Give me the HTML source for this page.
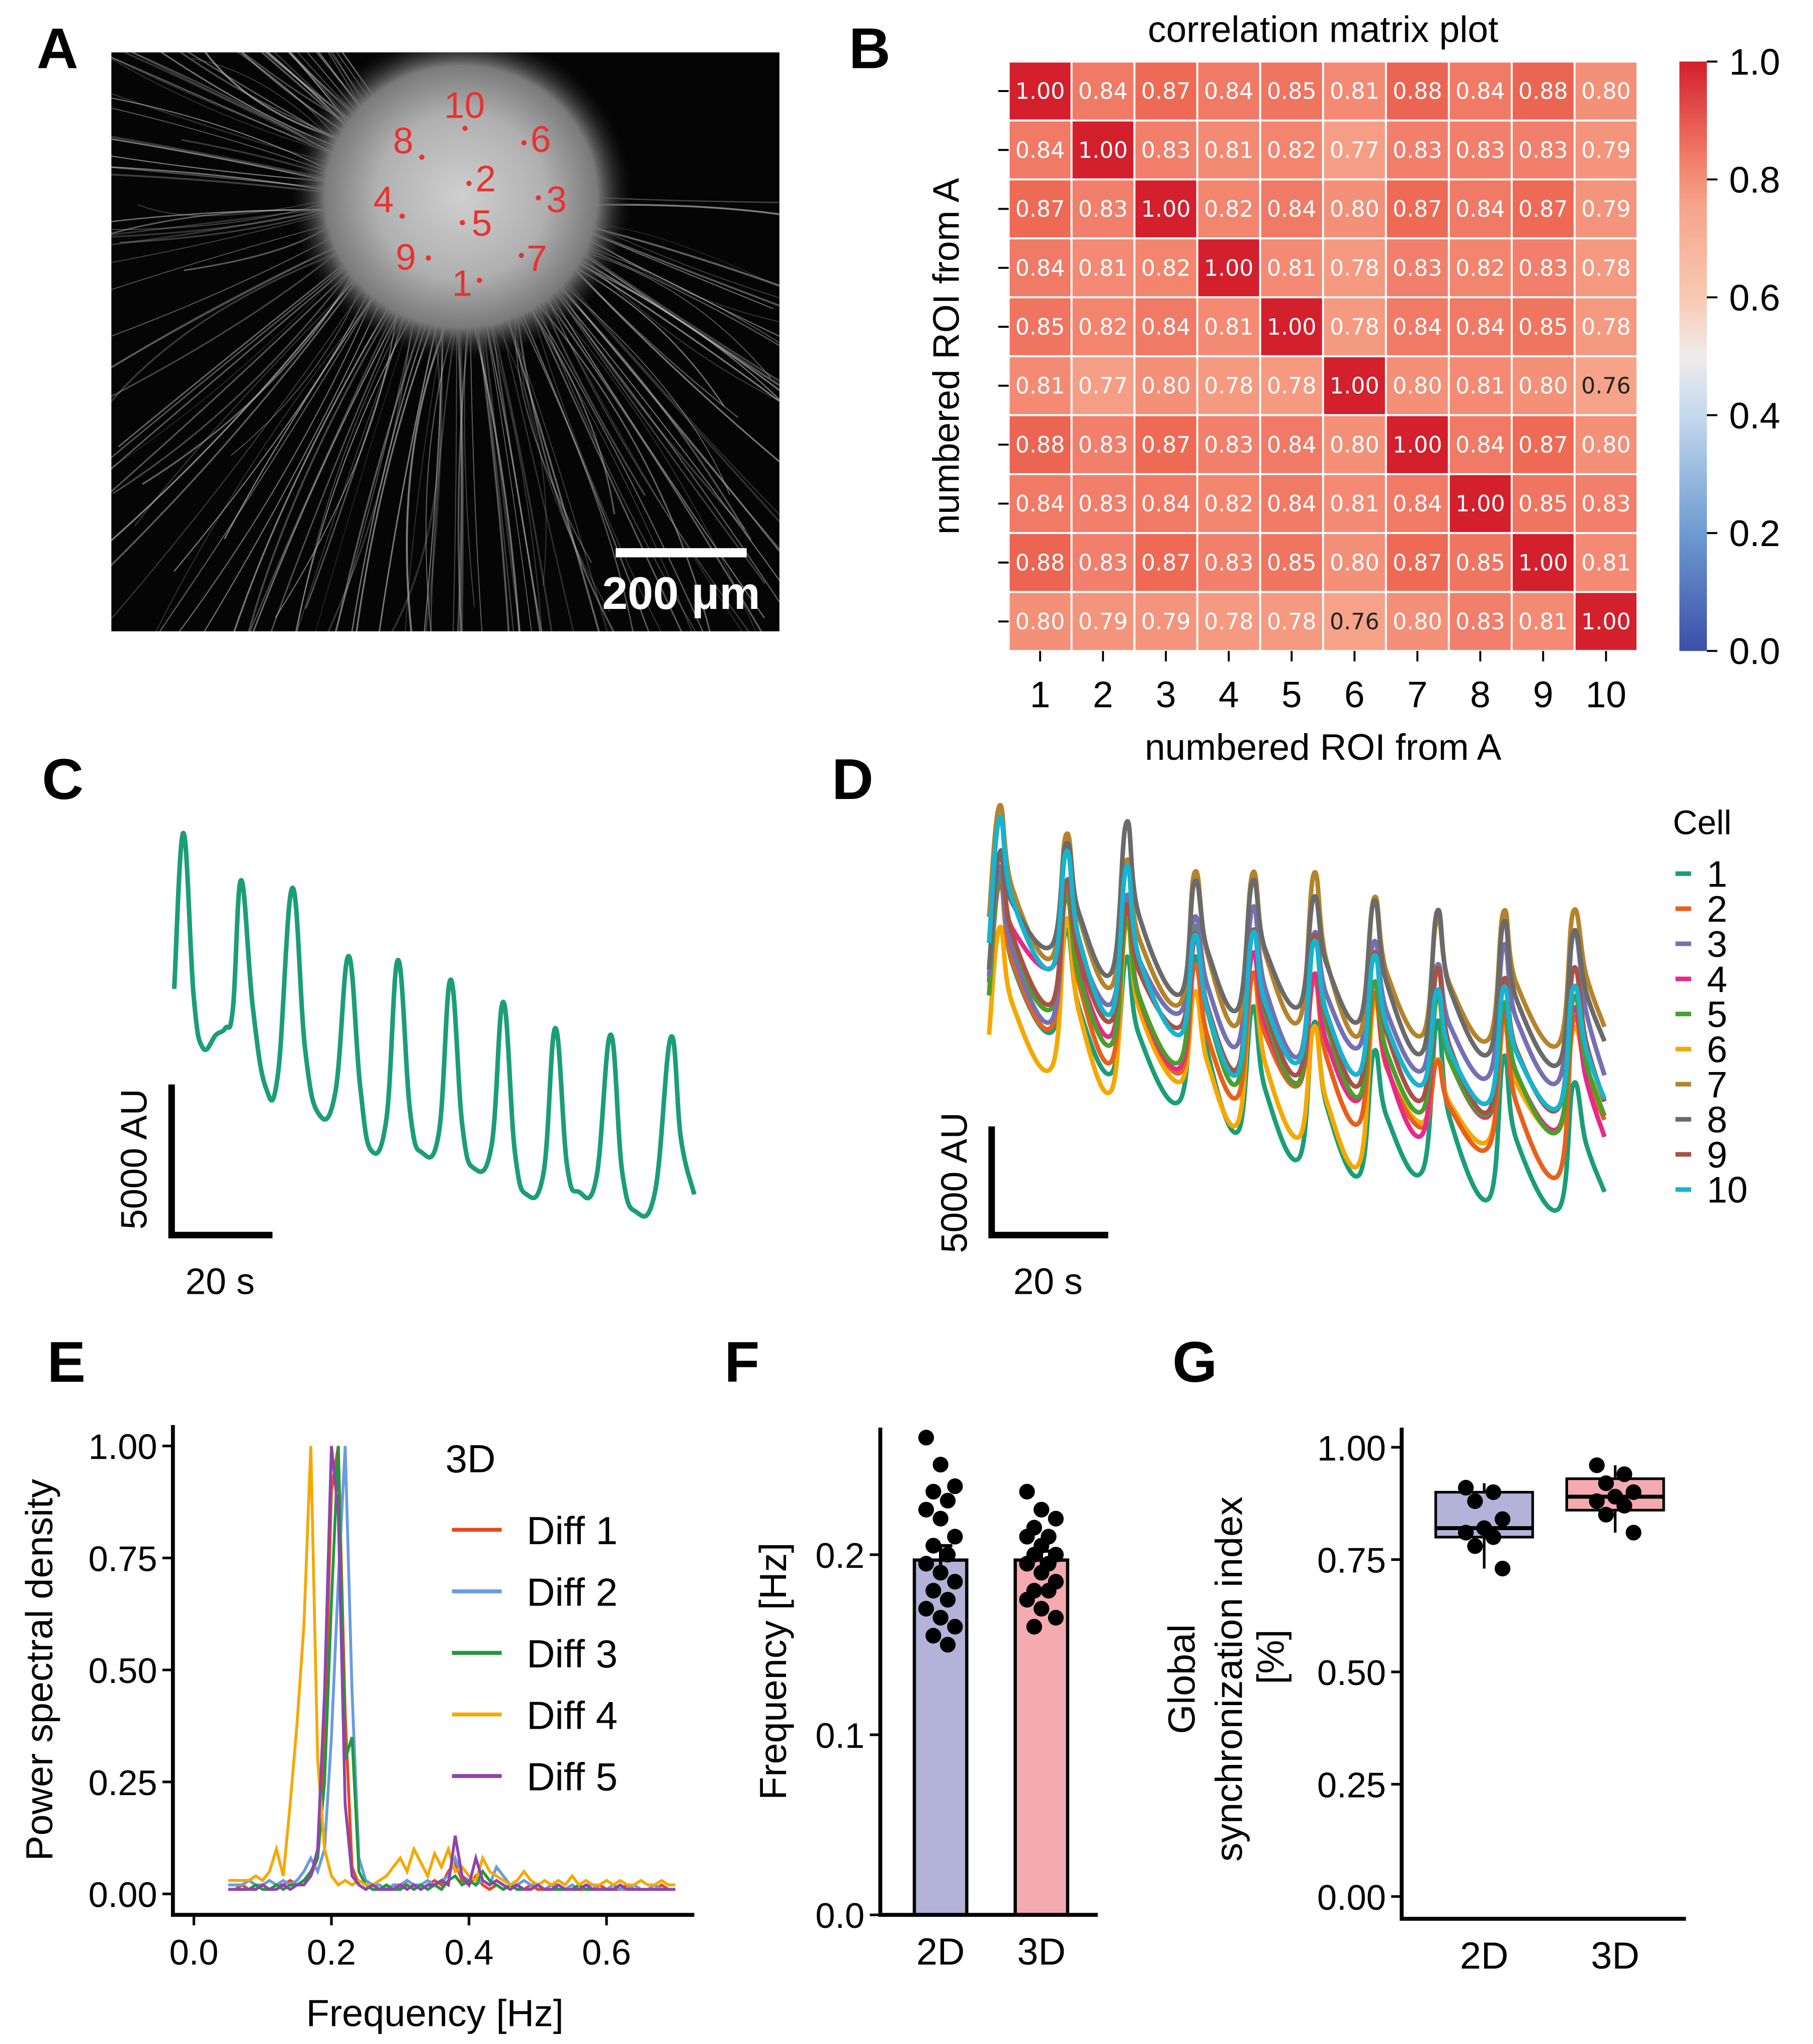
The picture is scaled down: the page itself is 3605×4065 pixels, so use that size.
<!DOCTYPE html>
<html><head><meta charset="utf-8"><style>
html,body{margin:0;padding:0;background:#fff;}
svg{display:block;font-family:"Liberation Sans",sans-serif;}
</style></head><body>
<svg id="fig" width="3605" height="4065" viewBox="0 0 1384 1560.6" xmlns="http://www.w3.org/2000/svg">
<defs>
<radialGradient id="blob" cx="0.5" cy="0.5" r="0.5">
<stop offset="0" stop-color="#cfcfcf"/><stop offset="0.5" stop-color="#b0b0b0"/><stop offset="0.8" stop-color="#7a7a7a"/><stop offset="1" stop-color="#222" stop-opacity="0"/>
</radialGradient>
<linearGradient id="cbar" x1="0" y1="1" x2="0" y2="0">
<stop offset="0" stop-color="#3b4fa8"/><stop offset="0.2" stop-color="#6d9bd1"/><stop offset="0.4" stop-color="#c4d9ee"/><stop offset="0.5" stop-color="#efeceb"/><stop offset="0.6" stop-color="#f8c9b2"/><stop offset="0.76" stop-color="#f6a389"/><stop offset="0.84" stop-color="#f07a66"/><stop offset="1" stop-color="#d41f2c"/>
</linearGradient>
<clipPath id="clipA"><rect x="85" y="40" width="510" height="442"/></clipPath>
</defs>
<g id="panelA">
<rect x="85" y="40" width="510" height="442" fill="#050505"/>
<g id="fibers" clip-path="url(#clipA)"></g>
<ellipse cx="352" cy="150" rx="130" ry="125" fill="url(#blob)" clip-path="url(#clipA)"/>
<g id="roiLabels" fill="#e8322f" font-size="28"></g>
<line x1="470" y1="422" x2="570" y2="422" stroke="#fff" stroke-width="7"/>
<text x="520" y="465" text-anchor="middle" fill="#fff" font-size="35" font-weight="bold">200 μm</text>
</g>
<g id="panelB">
<text x="1010" y="32" text-anchor="middle" font-size="28">correlation matrix plot</text>
<g id="heat"></g>
<text transform="translate(732,272) rotate(-90)" text-anchor="middle" font-size="28">numbered ROI from A</text>
<text x="1010" y="580" text-anchor="middle" font-size="28">numbered ROI from A</text>
<rect x="1282" y="47" width="21" height="450" fill="url(#cbar)"/>
<g id="cbticks"></g>
</g>
<g id="panelC"></g>
<g id="panelD"></g>
<g id="panelE"></g>
<g id="panelF"></g>
<g id="panelG"></g>
<g font-size="44" font-weight="bold">
<text x="28" y="52">A</text>
<text x="648" y="52">B</text>
<text x="32" y="610">C</text>
<text x="635" y="610">D</text>
<text x="36" y="1055">E</text>
<text x="553" y="1055">F</text>
<text x="895" y="1055">G</text>
</g>
</svg>
<script>
const NS="http://www.w3.org/2000/svg";
function mk(tag,attrs,parent,txt){const e=document.createElementNS(NS,tag);for(const k in attrs)e.setAttribute(k,attrs[k]);if(txt!==undefined)e.textContent=txt;parent.appendChild(e);return e;}
function smooth(pts){let d='M'+pts[0][0]+','+pts[0][1];for(let i=0;i<pts.length-1;i++){const p0=pts[Math.max(0,i-1)],p1=pts[i],p2=pts[i+1],p3=pts[Math.min(pts.length-1,i+2)];const t=0.2;const c1x=p1[0]+(p2[0]-p0[0])*t,c1y=p1[1]+(p2[1]-p0[1])*t,c2x=p2[0]-(p3[0]-p1[0])*t,c2y=p2[1]-(p3[1]-p1[1])*t;d+=` C${c1x.toFixed(1)},${c1y.toFixed(1)} ${c2x.toFixed(1)},${c2y.toFixed(1)} ${p2[0].toFixed(1)},${p2[1].toFixed(1)}`;}return d;}

// ---------- Data ----------
const roiNames=["1","2","3","4","5","6","7","8","9","10"];
const corrMatrix=[
[1.00,0.84,0.87,0.84,0.85,0.81,0.88,0.84,0.88,0.80],
[0.84,1.00,0.83,0.81,0.82,0.77,0.83,0.83,0.83,0.79],
[0.87,0.83,1.00,0.82,0.84,0.80,0.87,0.84,0.87,0.79],
[0.84,0.81,0.82,1.00,0.81,0.78,0.83,0.82,0.83,0.78],
[0.85,0.82,0.84,0.81,1.00,0.78,0.84,0.84,0.85,0.78],
[0.81,0.77,0.80,0.78,0.78,1.00,0.80,0.81,0.80,0.76],
[0.88,0.83,0.87,0.83,0.84,0.80,1.00,0.84,0.87,0.80],
[0.84,0.83,0.84,0.82,0.84,0.81,0.84,1.00,0.85,0.83],
[0.88,0.83,0.87,0.83,0.85,0.80,0.87,0.85,1.00,0.81],
[0.80,0.79,0.79,0.78,0.78,0.76,0.80,0.83,0.81,1.00]];
const cbTicks=[0.0,0.2,0.4,0.6,0.8,1.0];

const cTime=[0,1.8,3.8,5.6,8.2,10,11.5,13.1,15.4,17.9,20.3,23.1,25.6,28.2,31.5,34.1,36.4,38.5,41.5,43.8,46.2,48.5,51.8,54.1,56.4,58.7,62.1,64.4,66.7,69,72.3,74.6,76.9,79.2,82.6,85.4,87.7,90.3,94.1,97.2,99.2,101.8];
const cSignal=[188,307,183,143,153,158,173,271,173,113,123,265,143,93,108,213,113,65,88,210,93,63,78,195,83,51,68,178,63,31,48,158,53,33,43,153,48,18,33,151,73,31];

const dPeakTimes=[1.8,13.1,23.3,34.9,44.7,55.1,65.3,76,87.3,99.1];
const dEndTime=104.4;
const cellNames=["1","2","3","4","5","6","7","8","9","10"];
const cellStart=[183,183,198,193,183,153,243,203,203,223];
const cellPeaks=[
[270,233,212,212,174,162,140,163,136,115],
[270,263,248,206,199,195,184,133,166,164],
[281,270,259,243,250,230,224,206,221,230],
[270,259,248,226,215,199,193,184,173,173],
[274,259,241,235,232,226,193,181,177,181],
[235,241,239,186,199,159,177,134,159,157],
[328,306,286,277,276,276,257,241,247,247],
[292,299,315,270,270,258,255,247,239,231],
[292,270,252,230,232,228,215,203,195,203],
[319,293,281,229,230,224,213,187,189,189]];
const cellTroughs=[
[155,124,103,79,59,46,49,28,20,33],
[159,133,124,106,115,86,82,68,46,88],
[164,177,170,146,137,144,126,122,118,122],
[204,153,128,124,117,104,77,91,82,75],
[173,146,133,117,117,106,95,93,80,91],
[128,111,117,86,75,55,86,73,80,102],
[212,190,177,162,164,153,153,150,146,159],
[221,201,184,173,175,164,140,139,131,148],
[177,164,159,128,124,115,104,95,97,102],
[204,170,153,124,133,124,115,102,98,104]];
const cellColors=["#1b9e77","#e8601c","#7570b3","#e7298a","#4aa02c","#f5a800","#b5832a","#6a6a6a","#a65345","#17b3cf"];
const drawOrder=[0,5,1,3,4,2,8,6,7,9];

const eXTicks=[0.0,0.2,0.4,0.6];
const eYTicks=[0.00,0.25,0.50,0.75,1.00];
const seriesNames=["Diff 1","Diff 2","Diff 3","Diff 4","Diff 5"];
const seriesColors=["#e8481c","#6a9be0","#1e9a3c","#f5a800","#8e44ad"];
const freqs=[];for(let i=0;i<66;i++)freqs.push(+(0.05+0.01*i).toFixed(2));
const psd1=[0.01,0.01,0.02,0.01,0.01,0.02,0.01,0.02,0.02,0.03,0.02,0.03,0.04,0.08,0.35,0.9,1.0,0.4,0.06,0.02,0.01,0.02,0.01,0.01,0.02,0.01,0.03,0.02,0.01,0.02,0.03,0.02,0.05,0.07,0.03,0.02,0.04,0.02,0.01,0.02,0.01,0.02,0.01,0.01,0.02,0.01,0.01,0.02,0.01,0.01,0.02,0.01,0.01,0.01,0.02,0.01,0.01,0.01,0.02,0.01,0.01,0.01,0.01,0.02,0.01,0.01];
const psd2=[0.02,0.02,0.02,0.03,0.02,0.02,0.03,0.02,0.03,0.02,0.03,0.05,0.08,0.05,0.1,0.35,0.7,1.0,0.45,0.08,0.03,0.02,0.02,0.01,0.02,0.02,0.03,0.02,0.02,0.03,0.02,0.03,0.04,0.08,0.04,0.03,0.02,0.03,0.02,0.06,0.04,0.02,0.02,0.03,0.02,0.02,0.01,0.02,0.02,0.01,0.02,0.01,0.02,0.02,0.01,0.01,0.02,0.01,0.01,0.02,0.01,0.01,0.02,0.01,0.01,0.01];
const psd3=[0.01,0.01,0.01,0.01,0.02,0.01,0.01,0.02,0.01,0.02,0.02,0.03,0.05,0.08,0.25,0.65,1.0,0.3,0.35,0.05,0.02,0.01,0.01,0.02,0.01,0.01,0.02,0.01,0.02,0.01,0.02,0.01,0.03,0.04,0.02,0.03,0.02,0.05,0.03,0.02,0.01,0.02,0.01,0.01,0.01,0.02,0.01,0.01,0.01,0.01,0.01,0.02,0.01,0.01,0.01,0.01,0.01,0.02,0.01,0.01,0.01,0.01,0.01,0.01,0.01,0.01];
const psd4=[0.03,0.03,0.03,0.03,0.04,0.03,0.05,0.1,0.04,0.2,0.38,0.6,1.0,0.3,0.1,0.04,0.02,0.03,0.02,0.03,0.02,0.02,0.03,0.04,0.06,0.08,0.05,0.1,0.07,0.04,0.09,0.06,0.1,0.05,0.06,0.04,0.03,0.08,0.05,0.04,0.03,0.02,0.03,0.05,0.03,0.02,0.03,0.02,0.03,0.02,0.04,0.02,0.03,0.02,0.02,0.03,0.02,0.03,0.02,0.02,0.03,0.02,0.02,0.03,0.02,0.02];
const psd5=[0.01,0.01,0.01,0.01,0.01,0.02,0.01,0.01,0.02,0.01,0.02,0.02,0.04,0.1,0.45,1.0,0.85,0.2,0.04,0.02,0.01,0.02,0.01,0.01,0.01,0.02,0.01,0.02,0.01,0.02,0.02,0.03,0.02,0.13,0.04,0.02,0.08,0.03,0.02,0.03,0.02,0.01,0.02,0.01,0.01,0.02,0.01,0.01,0.02,0.01,0.01,0.01,0.02,0.01,0.01,0.01,0.01,0.02,0.01,0.01,0.01,0.01,0.01,0.01,0.01,0.01];

const fGroups=["2D","3D"];
const fMeans=[0.197,0.197];
const fSem=[0.008,0.005];
const fYTicks=[0.0,0.1,0.2];
const fDots2D=[0.265,0.25,0.238,0.235,0.23,0.225,0.22,0.21,0.205,0.2,0.195,0.19,0.185,0.18,0.175,0.17,0.165,0.16,0.155,0.15];
const fDots3D=[0.235,0.225,0.22,0.215,0.21,0.21,0.205,0.2,0.2,0.195,0.195,0.19,0.185,0.18,0.18,0.175,0.17,0.165,0.16];

const gGroups=["2D","3D"];
const gQ1=[0.80,0.86];
const gMedian=[0.82,0.89];
const gQ3=[0.90,0.93];
const gWhiskLo=[0.73,0.81];
const gWhiskHi=[0.92,0.96];
const gYTicks=[0.00,0.25,0.50,0.75,1.00];
const gDots2D=[0.91,0.90,0.88,0.84,0.82,0.81,0.80,0.78,0.73];
const gDots3D=[0.96,0.94,0.92,0.90,0.89,0.88,0.87,0.85,0.81];

const barColors=["#b3b3d9","#f4aaaf"];

// ---------- Panel A ----------
(function(){
 const g=document.getElementById('fibers');
 let s=11;function rnd(){s=(s*9301+49297)%233280;return s/233280;}
 for(let i=0;i<170;i++){
  const a=0.05*Math.PI+rnd()*1.25*Math.PI - (rnd()<0.15?0.6:0);
  const len=140+rnd()*300;
  const x0=352+Math.cos(a)*100,y0=150+Math.sin(a)*100;
  const x1=352+Math.cos(a)*(100+len)*0.9,y1=150+Math.sin(a)*(100+len)*1.15;
  const cx=(x0+x1)/2+(rnd()-0.5)*70,cy=(y0+y1)/2+(rnd()-0.5)*50;
  const p=mk('path',{d:`M${x0.toFixed(1)},${y0.toFixed(1)} Q${cx.toFixed(1)},${cy.toFixed(1)} ${x1.toFixed(1)},${y1.toFixed(1)}`,stroke:'#c8c8c8','stroke-width':0.5+rnd()*1.0,fill:'none',opacity:0.2+rnd()*0.45},g);
  
  
 }
 const roiL=document.getElementById('roiLabels');
 const rois=[["10",339,90,355,98],["8",300,117,322,120],["6",405,116,400,109],["2",363,146,358,140],["4",285,162,307,165],["3",417,162,411,151],["5",360,180,353,170],["9",302,206,327,197],["7",402,207,398,195],["1",345,226,366,214]];
 rois.forEach(r=>{
  const t=mk('text',{x:r[1],y:r[2]},roiL,r[0]);
  
  
  const c=mk('circle',{cx:r[3],cy:r[4],r:2},roiL);
  
  
 });
})();

// ---------- Panel B ----------
(function(){
 const g=document.getElementById('heat');
 const x0=770,y0=47,cw=48,ch=45;
 const stops=[[0,[59,79,168]],[0.2,[109,155,209]],[0.4,[196,217,238]],[0.5,[239,236,235]],[0.6,[248,201,178]],[0.76,[246,163,137]],[0.81,[244,138,116]],[0.84,[240,122,102]],[0.87,[238,106,85]],[1,[212,31,44]]];
 function col(v){for(let i=1;i<stops.length;i++){if(v<=stops[i][0]){const a=stops[i-1],b=stops[i];const f=(v-a[0])/(b[0]-a[0]);return 'rgb('+a[1].map((c,k)=>Math.round(c+(b[1][k]-c)*f)).join(',')+')';}}return 'rgb(212,31,44)';}
 corrMatrix.forEach((row,r)=>row.forEach((v,c)=>{
  const rc=mk('rect',{x:x0+c*cw,y:y0+r*ch,width:cw,height:ch,fill:col(v),stroke:'#fff','stroke-width':1.5},g);
  
  
  const t=mk('text',{x:x0+c*cw+cw/2,y:y0+r*ch+ch/2+6,'text-anchor':'middle','font-size':17,'font-family':'DejaVu Sans, sans-serif',fill:v<0.765?'#222':'#fff'},g,v.toFixed(2));
  
  
 }));
 roiNames.forEach((n,i)=>{
  mk('line',{x1:x0-8,x2:x0,y1:y0+i*ch+ch/2,y2:y0+i*ch+ch/2,stroke:'#000','stroke-width':1.5},g);
  mk('line',{x1:x0+i*cw+cw/2,x2:x0+i*cw+cw/2,y1:y0+10*ch,y2:y0+10*ch+8,stroke:'#000','stroke-width':1.5},g);
  const t=mk('text',{x:x0+i*cw+cw/2,y:540,'text-anchor':'middle','font-size':28},g,n);
  
  
 });
 const cb=document.getElementById('cbticks');
 cbTicks.forEach(v=>{const y=497-v*450;
  mk('line',{x1:1303,x2:1311,y1:y,y2:y,stroke:'#000','stroke-width':1.5},cb);
  const t=mk('text',{x:1320,y:y+10,'font-size':28},cb,v.toFixed(1));
  
  
 });
})();

// ---------- Panel C ----------
(function(){
 const g=document.getElementById('panelC');
 const xs=t=>133+t*3.9, ys=v=>943-v;
 const p=mk('path',{d:smooth(cTime.map((t,i)=>[xs(t),ys(cSignal[i])])),fill:'none',stroke:'#1b9e77','stroke-width':3.5,'stroke-linejoin':'round'},g);
 
 
 mk('path',{d:'M131,828 V943 H208',fill:'none',stroke:'#000','stroke-width':5},g);
 mk('text',{transform:'translate(112,885) rotate(-90)','text-anchor':'middle','font-size':28},g,'5000 AU');
 mk('text',{x:168,y:988,'text-anchor':'middle','font-size':28},g,'20 s');
})();

// ---------- Panel D ----------
(function(){
 const g=document.getElementById('panelD');
 const xs=t=>755+t*4.5, ys=v=>943-v;
 drawOrder.forEach(c=>{
  const pts=[[0,cellStart[c]]];
  for(let i=0;i<10;i++){
   const pk=cellPeaks[c][i],tr=cellTroughs[c][i];
   const tn=i<9?dPeakTimes[i+1]:dEndTime+2.5;
   pts.push([dPeakTimes[i],pk]);
   pts.push([dPeakTimes[i]+2.2,tr+0.45*(pk-tr)]);
   pts.push([Math.min(tn-2.5,dEndTime),tr]);
  }
  const p=mk('path',{d:smooth(pts.map(q=>[xs(q[0]),ys(q[1])])),fill:'none',stroke:cellColors[c],'stroke-width':3.5,'stroke-linejoin':'round'},g);
  
  
 });
 mk('path',{d:'M757,860 V943 H846',fill:'none',stroke:'#000','stroke-width':5},g);
 mk('text',{transform:'translate(738,903) rotate(-90)','text-anchor':'middle','font-size':28},g,'5000 AU');
 mk('text',{x:800,y:988,'text-anchor':'middle','font-size':28},g,'20 s');
 mk('text',{x:1277,y:637,'font-size':26},g,'Cell');
 cellNames.forEach((n,i)=>{const y=667+i*26.8;
  mk('line',{x1:1279,x2:1291,y1:y,y2:y,stroke:cellColors[i],'stroke-width':3.5},g);
  const t=mk('text',{x:1303,y:y+10,'font-size':28},g,n);
  
  
 });
})();

// ---------- Panel E ----------
(function(){
 const g=document.getElementById('panelE');
 const xs=f=>148+f*525, ys=v=>1446-v*342;
 [psd1,psd2,psd3,psd4,psd5].forEach((arr,s)=>{
  const p=mk('polyline',{points:freqs.map((f,i)=>xs(f)+','+ys(arr[i])).join(' '),fill:'none',stroke:seriesColors[s],'stroke-width':2.2},g);
  
  
 });
 mk('path',{d:'M132,1088 V1462 H530',fill:'none',stroke:'#000','stroke-width':3},g);
 eYTicks.forEach(v=>{mk('line',{x1:124,x2:132,y1:ys(v),y2:ys(v),stroke:'#000','stroke-width':2},g);
  mk('text',{x:120,y:ys(v)+10,'text-anchor':'end','font-size':27},g,v.toFixed(2));});
 eXTicks.forEach(v=>{mk('line',{x1:xs(v),x2:xs(v),y1:1462,y2:1470,stroke:'#000','stroke-width':2},g);
  mk('text',{x:xs(v),y:1500,'text-anchor':'middle','font-size':27},g,v.toFixed(1));});
 mk('text',{transform:'translate(40,1275) rotate(-90)','text-anchor':'middle','font-size':29},g,'Power spectral density');
 mk('text',{x:332,y:1547,'text-anchor':'middle','font-size':29},g,'Frequency [Hz]');
 mk('text',{x:340,y:1124,'font-size':30},g,'3D');
 seriesNames.forEach((n,i)=>{const y=1168+i*47;
  mk('line',{x1:345,x2:383,y1:y,y2:y,stroke:seriesColors[i],'stroke-width':3},g);
  const t=mk('text',{x:402,y:y+11,'font-size':30},g,n);
  
  
 });
})();

// ---------- Panel F ----------
(function(){
 const g=document.getElementById('panelF');
 const ys=v=>1462-v*1375; const cx=[718,795], bw=40;
 fGroups.forEach((n,i)=>{
  const b=mk('rect',{x:cx[i]-bw/2,y:ys(fMeans[i]),width:bw,height:ys(0)-ys(fMeans[i]),fill:barColors[i],stroke:'#000','stroke-width':2.5},g);
  
  
  mk('line',{x1:cx[i],x2:cx[i],y1:ys(fMeans[i]+fSem[i]),y2:ys(fMeans[i]-fSem[i]),stroke:'#000','stroke-width':2.5},g);
  mk('line',{x1:cx[i]-9,x2:cx[i]+9,y1:ys(fMeans[i]+fSem[i]),y2:ys(fMeans[i]+fSem[i]),stroke:'#000','stroke-width':2.5},g);
  const dots=i===0?fDots2D:fDots3D;
  dots.forEach((v,k)=>{const c=mk('circle',{cx:cx[i]+((k*7)%5-2)*5.5,cy:ys(v),r:6,fill:'#000'},g);
   
   });
  mk('text',{x:cx[i],y:1500,'text-anchor':'middle','font-size':29},g,n);
 });
 mk('path',{d:'M672,1090 V1462 H838',fill:'none',stroke:'#000','stroke-width':3},g);
 fYTicks.forEach(v=>{mk('line',{x1:664,x2:672,y1:ys(v),y2:ys(v),stroke:'#000','stroke-width':2},g);
  mk('text',{x:660,y:ys(v)+10,'text-anchor':'end','font-size':27},g,v.toFixed(1));});
 mk('text',{transform:'translate(600,1276) rotate(-90)','text-anchor':'middle','font-size':29},g,'Frequency [Hz]');
})();

// ---------- Panel G ----------
(function(){
 const g=document.getElementById('panelG');
 const ys=v=>1448-v*343; const cx=[1133,1233], bw=74;
 gGroups.forEach((n,i)=>{
  mk('line',{x1:cx[i],x2:cx[i],y1:ys(gWhiskHi[i]),y2:ys(gWhiskLo[i]),stroke:'#000','stroke-width':2},g);
  const b=mk('rect',{x:cx[i]-bw/2,y:ys(gQ3[i]),width:bw,height:ys(gQ1[i])-ys(gQ3[i]),fill:barColors[i],stroke:'#000','stroke-width':2},g);
  
  
  mk('line',{x1:cx[i]-bw/2,x2:cx[i]+bw/2,y1:ys(gMedian[i]),y2:ys(gMedian[i]),stroke:'#000','stroke-width':3},g);
  const dots=i===0?gDots2D:gDots3D;
  dots.forEach((v,k)=>{const c=mk('circle',{cx:cx[i]+((k*3)%5-2)*7,cy:ys(v),r:6,fill:'#000'},g);
   
   });
  mk('text',{x:cx[i],y:1503,'text-anchor':'middle','font-size':29},g,n);
 });
 mk('path',{d:'M1070,1090 V1465 H1287',fill:'none',stroke:'#000','stroke-width':3},g);
 gYTicks.forEach(v=>{mk('line',{x1:1062,x2:1070,y1:ys(v),y2:ys(v),stroke:'#000','stroke-width':2},g);
  mk('text',{x:1058,y:ys(v)+10,'text-anchor':'end','font-size':27},g,v.toFixed(2));});
 mk('text',{transform:'translate(912,1282) rotate(-90)','text-anchor':'middle','font-size':29},g,'Global');
 mk('text',{transform:'translate(948,1282) rotate(-90)','text-anchor':'middle','font-size':29},g,'synchronization index');
 mk('text',{transform:'translate(980,1265) rotate(-90)','text-anchor':'middle','font-size':29},g,'[%]');
})();
</script>
</body></html>
